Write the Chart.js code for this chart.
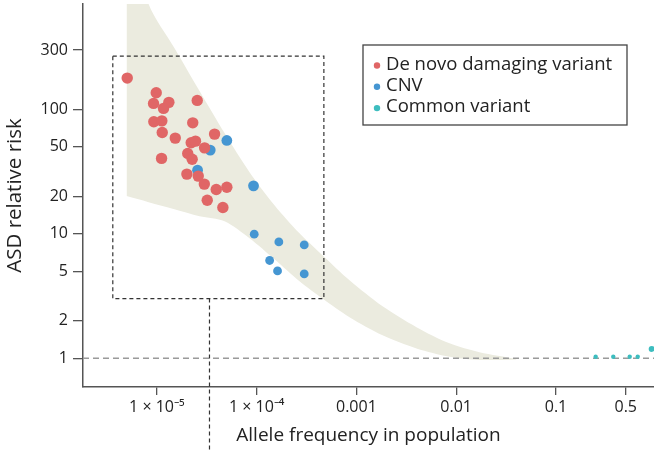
<!DOCTYPE html>
<html>
<head>
<meta charset="utf-8">
<script src="https://cdn.jsdelivr.net/npm/chart.js@4.4.1/dist/chart.umd.min.js"></script>
<style>
  body { margin: 0; background: #fff; }
  #wrap { width: 654px; height: 452px; }
</style>
</head>
<body>
<div id="wrap"><canvas id="riskChart" width="654" height="452"></canvas></div>
<script>
// De novo damaging variants
const denovoFreq = [5.05e-6, 9.86e-6, 9.27e-6, 1.32e-5, 1.167e-5, 2.54e-5, 9.33e-6, 1.122e-5, 2.29e-5,
  1.133e-5, 1.53e-5, 3.79e-5, 2.21e-5, 2.44e-5, 3.01e-5, 1.115e-5, 2.04e-5, 2.26e-5, 2.0e-5,
  2.6e-5, 2.99e-5, 3.94e-5, 5.03e-5, 3.2e-5, 4.59e-5];
const denovoRisk = [178.5, 136, 111.7, 113.9, 101.9, 118.1, 79.5, 80.9, 78.0,
  65.3, 58.8, 63.3, 53.9, 55.6, 49.1, 40.4, 44.3, 39.8, 30.2,
  29.1, 25.1, 22.7, 23.7, 18.6, 16.3];

// CNVs (first four are the larger dots)
const cnvFreq = [5.03e-5, 3.43e-5, 2.56e-5, 9.31e-5, 9.46e-5, 1.67e-4, 3.0e-4, 1.35e-4, 1.62e-4, 3.0e-4];
const cnvRisk = [56.3, 47.1, 32.5, 24.3, 9.94, 8.62, 8.15, 6.11, 5.04, 4.76];

// Common variants
const commonFreq = [0.25, 0.375, 0.548, 0.659, 0.91];
const commonRisk = [1.03, 1.03, 1.03, 1.03, 1.19];

// shaded band
const bandFreq = [4.97e-6, 8.26e-6, 1.5e-5, 2.68e-5, 4.77e-5, 8.49e-5, 1.51e-4, 2.69e-4, 4.68e-4,
  8.53e-4, 1.83e-3, 4.0e-3, 8.57e-3, 1.71e-2, 4.02e-2];
const bandUpper = [3000, 703, 311, 140.4, 64.5, 31.3, 17.0, 10.1, 6.61, 4.24, 2.62, 1.78, 1.32, 1.12, 0.99];
const bandLower = [20.1, 17.97, 15.8, 13.87, 12.64, 9.23, 6.25, 4.16, 2.98, 2.14, 1.53, 1.2, 1.03, 0.97, 0.98];

// dashed box and drop line
const boxFreq = [3.62e-6, 4.72e-4];
const boxRisk = [3.02, 268];
const dropFreq = 3.37e-5;

const xTicks = [1e-5, 1e-4, 0.001, 0.01, 0.1, 0.5];
const xTickLabels = ['1 × 10⁻⁵', '1 × 10⁻⁴', '0.001', '0.01', '0.1', '0.5'];
const yTicks = [1, 2, 5, 10, 20, 50, 100, 300];

const legendItems = [
  { label: 'De novo damaging variant', color: '#e06666' },
  { label: 'CNV', color: '#4596d2' },
  { label: 'Common variant', color: '#3dbdbf' }
];

const FONT = "'Open Sans', sans-serif";

function pts(xs, ys) {
  return xs.map((x, i) => ({ x: x, y: ys[i] }));
}

const overlay = {
  id: 'overlay',
  afterDatasetDraw(chart, args) {
    if (args.index !== 3) return;
    const ctx = chart.ctx;
    const xs = chart.scales.x, ys = chart.scales.y;
    const area = chart.chartArea;
    ctx.save();
    // reference line at relative risk 1
    ctx.strokeStyle = '#9a9a9a';
    ctx.lineWidth = 1.5;
    ctx.setLineDash([6, 4]);
    ctx.beginPath();
    const y1 = ys.getPixelForValue(1);
    ctx.moveTo(area.left, y1);
    ctx.lineTo(area.right, y1);
    ctx.stroke();
    // dashed box
    ctx.strokeStyle = '#333';
    ctx.lineWidth = 1.2;
    ctx.setLineDash([4, 3]);
    const l = xs.getPixelForValue(boxFreq[0]), r = xs.getPixelForValue(boxFreq[1]);
    const b = ys.getPixelForValue(boxRisk[0]), t = ys.getPixelForValue(boxRisk[1]);
    ctx.strokeRect(l, t, r - l, b - t);
    ctx.restore();
  },
  afterDraw(chart) {
    const ctx = chart.ctx;
    const xs = chart.scales.x, ys = chart.scales.y;
    ctx.save();
    // drop line below the box
    ctx.strokeStyle = '#333';
    ctx.lineWidth = 1.2;
    ctx.setLineDash([4, 3]);
    const dx = xs.getPixelForValue(dropFreq);
    ctx.beginPath();
    ctx.moveTo(dx, ys.getPixelForValue(boxRisk[0]));
    ctx.lineTo(dx, chart.height);
    ctx.stroke();
    // legend
    ctx.setLineDash([]);
    ctx.fillStyle = '#fff';
    ctx.fillRect(363, 45, 264, 80);
    ctx.strokeStyle = '#444';
    ctx.lineWidth = 1.3;
    ctx.strokeRect(363, 45, 264, 80);
    ctx.font = '18.5px ' + FONT;
    ctx.textBaseline = 'middle';
    legendItems.forEach((it, i) => {
      const y = 64.5 + i * 21.3;
      ctx.fillStyle = it.color;
      ctx.beginPath();
      ctx.arc(377, y + 1, 3.2, 0, Math.PI * 2);
      ctx.fill();
      ctx.fillStyle = '#222';
      ctx.fillText(it.label, 386, y);
    });
    ctx.restore();
  }
};

const config = {
  type: 'scatter',
  data: {
    datasets: [
      {
        label: 'De novo damaging variant',
        data: pts(denovoFreq, denovoRisk),
        backgroundColor: '#e06666',
        pointRadius: 5.7,
        pointHoverRadius: 5.7,
        borderWidth: 0
      },
      {
        label: 'CNV',
        data: pts(cnvFreq, cnvRisk),
        backgroundColor: '#4596d2',
        pointRadius: ctx => ctx.dataIndex < 4 ? 5.4 : 4.4,
        borderWidth: 0
      },
      {
        label: 'Common variant',
        data: pts(commonFreq, commonRisk),
        backgroundColor: '#3dbdbf',
        pointRadius: ctx => ctx.dataIndex === 4 ? 3 : 2.2,
        borderWidth: 0
      },
      {
        label: 'band upper',
        data: pts(bandFreq, bandUpper),
        showLine: true,
        pointRadius: 0,
        borderWidth: 0,
        borderColor: 'rgba(0,0,0,0)',
        backgroundColor: '#ebebdf',
        tension: 0.3,
        fill: '+1'
      },
      {
        label: 'band lower',
        data: pts(bandFreq, bandLower),
        showLine: true,
        pointRadius: 0,
        borderWidth: 0,
        borderColor: 'rgba(0,0,0,0)',
        tension: 0.3,
        fill: false
      }
    ]
  },
  options: {
    responsive: false,
    animation: false,
    layout: { autoPadding: false, padding: { top: 4, right: 0, left: 0, bottom: 0 } },
    plugins: {
      legend: { display: false },
      tooltip: { enabled: false }
    },
    scales: {
      x: {
        type: 'logarithmic',
        min: 1.82e-6,
        max: 0.96,
        afterBuildTicks: s => { s.ticks = xTicks.map(v => ({ value: v })); },
        afterFit: s => { s.height = 65; s.paddingLeft = 0; s.paddingRight = 0; },
        ticks: {
          autoSkip: false,
          maxRotation: 0,
          padding: 3,
          color: '#222',
          font: { family: FONT, size: 16 },
          callback: (v, i) => xTickLabels[i]
        },
        grid: { drawOnChartArea: false, drawTicks: true, tickLength: 8, color: '#555', lineWidth: 1.3 },
        border: { display: true, color: '#555', width: 1.5 },
        title: {
          display: true,
          text: 'Allele frequency in population',
          color: '#222',
          font: { family: FONT, size: 19 },
          padding: { top: 0, bottom: 5 }
        }
      },
      y: {
        type: 'logarithmic',
        min: 0.588,
        max: 703,
        afterBuildTicks: s => { s.ticks = yTicks.map(v => ({ value: v })); },
        afterFit: s => { s.width = 83; s.paddingTop = 0; s.paddingBottom = 0; },
        ticks: {
          autoSkip: false,
          padding: 5,
          color: '#222',
          font: { family: FONT, size: 16 },
          callback: v => String(v)
        },
        grid: { drawOnChartArea: false, drawTicks: true, tickLength: 10, color: '#555', lineWidth: 1.3 },
        border: { display: true, color: '#555', width: 1.5 },
        title: {
          display: true,
          text: 'ASD relative risk',
          color: '#222',
          font: { family: FONT, size: 20.5 },
          padding: { top: 3, bottom: 0 }
        }
      }
    }
  },
  plugins: [overlay]
};

const riskChart = new Chart(document.getElementById('riskChart'), config);
</script>
</body>
</html>
